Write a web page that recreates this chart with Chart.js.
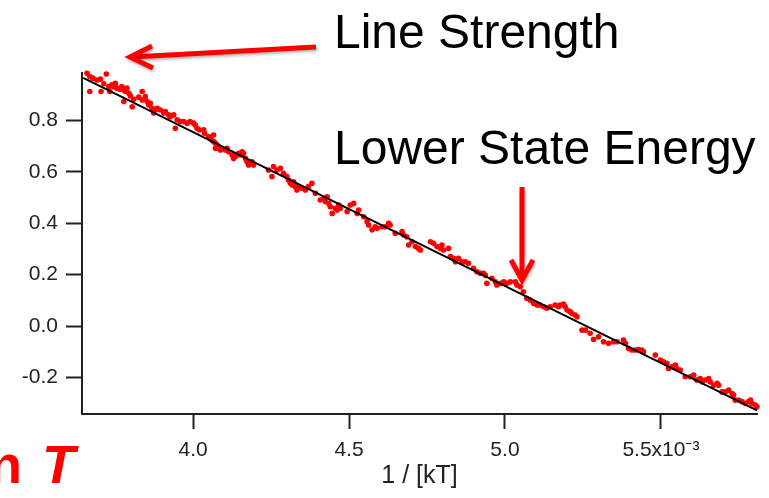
<!DOCTYPE html>
<html>
<head>
<meta charset="utf-8">
<script src="https://cdn.jsdelivr.net/npm/chart.js@4.4.1/dist/chart.umd.min.js"></script>
<style>
  html, body { margin: 0; padding: 0; background: #fff; }
  canvas { display: block; }
</style>
</head>
<body>
<canvas id="fitChart" width="769" height="498"></canvas>
<script>
// measured points, x in units of 1e-3 (1/kT), y = ln of line strength ratio
const xValues = [
    3.660,3.669,3.679,3.692,3.703,3.722,3.669,3.705,3.714,3.730,3.733,3.740,3.746,3.751,3.756,3.765,3.772,3.778,3.783,3.788,
    3.794,3.799,3.778,3.805,3.810,3.826,3.837,3.837,3.847,3.853,3.858,3.863,3.869,3.874,3.879,3.885,3.895,3.906,3.911,3.922,
    3.927,3.938,3.943,3.949,3.959,3.970,3.981,3.991,4.002,4.007,
    4.013,4.020,4.034,4.037,4.050,4.059,4.066,4.066,4.072,4.077,4.082,4.082,4.088,4.072,4.104,4.109,4.114,4.125,4.130,4.136,
    4.141,4.146,4.152,4.157,4.162,4.168,4.173,4.178,4.184,4.189,4.194,4.242,4.253,4.258,4.269,4.280,4.290,4.301,4.306,4.312,
    4.317,4.322,4.328,4.333,4.338,4.349,4.360,4.370,4.381,
    4.392,4.408,4.419,4.424,4.430,4.435,4.440,4.446,4.456,4.462,4.467,4.472,4.494,4.504,4.515,4.526,4.531,4.547,4.558,4.563,
    4.574,4.584,4.590,4.606,4.616,4.627,4.632,4.648,4.670,4.675,4.685,4.691,4.702,4.713,4.723,4.729,
    4.761,4.771,4.782,4.793,4.798,4.803,4.819,4.825,4.835,4.841,4.851,4.862,4.873,4.883,4.899,4.910,4.921,4.931,4.937,4.942,
    4.958,4.969,4.974,4.985,4.996,5.006,5.017,5.033,5.038,5.049,5.059,5.070,5.081,5.092,
    5.103,5.113,5.124,5.134,5.145,5.161,5.172,5.177,5.188,5.193,5.199,5.209,5.215,5.225,5.231,5.247,5.258,5.273,5.284,5.300,
    5.316,5.332,5.348,5.359,5.380,5.386,5.396,5.407,5.418,5.428,5.439,5.444,
    5.482,5.498,5.508,5.519,5.524,5.535,5.546,5.551,5.562,5.578,5.594,5.605,5.615,5.626,5.632,5.642,5.653,5.658,5.669,5.680,
    5.685,5.696,5.706,5.717,5.728,5.733,5.738,5.749,5.760,5.771,5.781,5.787,5.792,5.802,5.808
];
const yValues = [
    0.983,0.970,0.964,0.957,0.960,0.980,0.912,0.912,0.942,0.931,0.912,0.938,0.931,0.944,0.925,0.921,0.931,0.918,0.912,0.925,
    0.905,0.895,0.873,0.853,0.882,0.890,0.912,0.879,0.892,0.873,0.860,0.866,0.847,0.828,0.840,0.847,0.840,0.828,0.834,0.821,
    0.814,0.821,0.769,0.802,0.795,0.795,0.789,0.795,0.789,0.782,
    0.769,0.763,0.763,0.750,0.737,0.724,0.743,0.717,0.711,0.704,0.698,0.691,0.685,0.691,0.685,0.691,0.678,0.665,0.652,0.659,
    0.665,0.672,0.665,0.678,0.672,0.652,0.639,0.626,0.633,0.639,0.626,0.607,0.581,0.620,0.607,0.613,0.594,0.581,0.568,0.555,
    0.549,0.561,0.542,0.529,0.542,0.536,0.529,0.542,0.555,
    0.516,0.490,0.497,0.484,0.503,0.477,0.464,0.438,0.458,0.451,0.471,0.458,0.445,0.471,0.477,0.438,0.451,0.425,0.406,0.393,
    0.374,0.386,0.380,0.386,0.386,0.400,0.393,0.361,0.367,0.354,0.347,0.315,0.328,0.309,0.302,0.296,
    0.328,0.322,0.309,0.302,0.315,0.296,0.302,0.270,0.263,0.250,0.263,0.250,0.250,0.244,0.225,0.211,0.205,0.205,0.198,0.166,
    0.186,0.172,0.160,0.166,0.172,0.166,0.172,0.172,0.160,0.153,0.133,0.108,0.101,0.088,
    0.082,0.082,0.075,0.069,0.075,0.082,0.075,0.082,0.086,0.075,0.062,0.056,0.049,0.043,0.036,-0.016,-0.016,-0.028,-0.052,-0.042,
    -0.061,-0.067,-0.061,-0.061,-0.054,-0.067,-0.087,-0.093,-0.093,-0.091,-0.093,-0.100,
    -0.113,-0.132,-0.139,-0.145,-0.165,-0.158,-0.152,-0.165,-0.171,-0.197,-0.197,-0.191,-0.210,-0.204,-0.217,-0.210,-0.204,-0.217,-0.230,-0.223,
    -0.230,-0.256,-0.256,-0.249,-0.262,-0.268,-0.288,-0.288,-0.294,-0.301,-0.294,-0.288,-0.301,-0.307,-0.314
];

// straight fit line end points
const fitX = [3.648, 5.808];
const fitY = [0.965, -0.328];

const xTicks = [4.0, 4.5, 5.0, 5.5];
const yTicks = [-0.2, 0.0, 0.2, 0.4, 0.6, 0.8];

const FONT = '"Liberation Sans", Arial, sans-serif';
const AXIS_COLOR = '#222';

// arrows and slide text around the plot
const annotations = {
    id: 'annotations',
    afterDraw(chart) {
        const ctx = chart.ctx;
        ctx.save();

        ctx.fillStyle = '#000';
        ctx.font = '48px ' + FONT;
        ctx.textBaseline = 'alphabetic';
        ctx.textAlign = 'left';
        ctx.fillText('Line Strength', 334, 48);
        ctx.fillText('Lower State Energy', 334, 164);

        ctx.fillStyle = '#ff0000';
        ctx.font = 'bold 54px ' + FONT;
        ctx.textAlign = 'right';
        ctx.fillText('n', 22, 483);
        ctx.textAlign = 'left';
        ctx.font = 'italic bold 54px ' + FONT;
        ctx.fillText('T', 42, 483);

        ctx.strokeStyle = '#ff0000';
        ctx.lineWidth = 5;
        ctx.lineJoin = 'miter';
        ctx.shadowColor = 'rgba(0,0,0,0.3)';
        ctx.shadowBlur = 3;
        ctx.shadowOffsetX = 1;
        ctx.shadowOffsetY = 2;

        // Line Strength arrow
        ctx.beginPath();
        ctx.moveTo(316, 47);
        ctx.lineTo(132, 57);
        ctx.stroke();
        ctx.beginPath();
        ctx.moveTo(152, 46);
        ctx.lineTo(130, 57);
        ctx.lineTo(153, 68);
        ctx.stroke();

        // Lower State Energy arrow
        ctx.beginPath();
        ctx.moveTo(522, 187);
        ctx.lineTo(522, 278);
        ctx.stroke();
        ctx.beginPath();
        ctx.moveTo(511, 260);
        ctx.lineTo(522, 280);
        ctx.lineTo(533, 260);
        ctx.stroke();

        ctx.restore();
    }
};

const points = xValues.map((x, i) => ({ x: x, y: yValues[i] }));
const fitLine = fitX.map((x, i) => ({ x: x, y: fitY[i] }));

new Chart(document.getElementById('fitChart'), {
    type: 'scatter',
    data: {
        datasets: [
            {
                label: 'fit',
                data: fitLine,
                showLine: true,
                borderColor: '#000',
                borderWidth: 2,
                pointRadius: 0,
                order: 0,
                clip: false
            },
            {
                label: 'data',
                data: points,
                backgroundColor: '#ff0000',
                borderWidth: 0,
                pointRadius: 2.8,
                order: 1,
                clip: false
            }
        ]
    },
    options: {
        responsive: false,
        animation: false,
        devicePixelRatio: 1,
        layout: { padding: { top: 73, right: 12, left: 0, bottom: 0 } },
        plugins: {
            legend: { display: false },
            tooltip: { enabled: false }
        },
        scales: {
            x: {
                type: 'linear',
                min: 3.644,
                max: 5.808,
                afterBuildTicks: s => { s.ticks = xTicks.map(v => ({ value: v })); },
                afterFit: s => { s.height = 84; },
                grid: { drawOnChartArea: false, tickLength: 15, tickWidth: 2, tickColor: AXIS_COLOR },
                border: { color: AXIS_COLOR, width: 2 },
                ticks: {
                    autoSkip: false,
                    maxRotation: 0,
                    padding: 9,
                    color: AXIS_COLOR,
                    font: { size: 21, family: FONT },
                    callback: v => v === 5.5 ? '5.5x10\u207B\u00B3' : v.toFixed(1)
                },
                title: {
                    display: true,
                    text: '1 / [kT]',
                    color: AXIS_COLOR,
                    font: { size: 25, family: FONT },
                    padding: { top: 0, bottom: 7 }
                }
            },
            y: {
                type: 'linear',
                min: -0.342,
                max: 0.984,
                afterBuildTicks: s => { s.ticks = yTicks.map(v => ({ value: v })); },
                afterFit: s => { s.width = 82; },
                grid: { drawOnChartArea: false, tickLength: 16, tickWidth: 2, tickColor: AXIS_COLOR },
                border: { color: AXIS_COLOR, width: 2 },
                ticks: {
                    autoSkip: false,
                    padding: 8,
                    color: AXIS_COLOR,
                    font: { size: 21, family: FONT },
                    callback: v => v.toFixed(1)
                }
            }
        }
    },
    plugins: [annotations]
});
</script>
</body>
</html>
